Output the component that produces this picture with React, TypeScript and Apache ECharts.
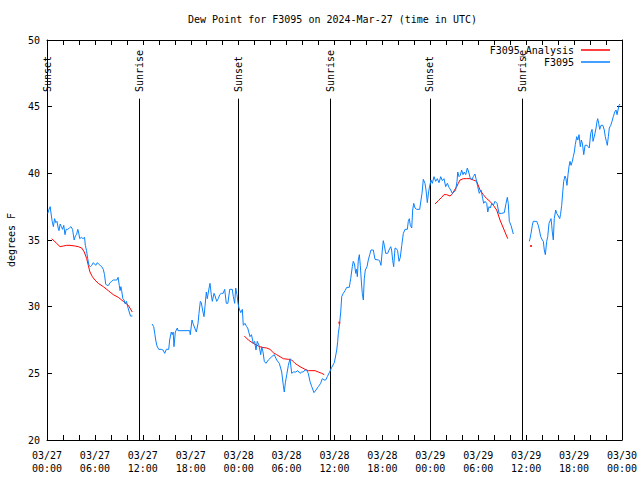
import React, { useEffect, useRef } from "react";
import * as echarts from "echarts";

// ---- data (hours since 03/27 00:00 UTC, degrees F) ----
const xTickLabels = [
  "03/27\n00:00", "03/27\n06:00", "03/27\n12:00", "03/27\n18:00",
  "03/28\n00:00", "03/28\n06:00", "03/28\n12:00", "03/28\n18:00",
  "03/29\n00:00", "03/29\n06:00", "03/29\n12:00", "03/29\n18:00",
  "03/30\n00:00",
];

const sunEventHours = [0, 11.56, 23.95, 35.47, 47.92, 59.52];
const sunEventLabels = ["Sunset", "Sunrise", "Sunset", "Sunrise", "Sunset", "Sunrise"];

const obsSeg1 = [
  [0.1, 37.0], [0.25, 37.3], [0.4, 37.5], [0.55, 36.8], [0.65, 36.4], [0.8, 36.0], [0.95, 36.6],
  [1.1, 36.3], [1.25, 36.4], [1.4, 35.9], [1.5, 35.7], [1.65, 36.2], [1.8, 36.0], [1.95, 35.8],
  [2.1, 36.1], [2.25, 35.4], [2.4, 35.8], [2.6, 35.8], [2.8, 35.9], [3.0, 36.0], [3.2, 35.8],
  [3.4, 35.0], [3.55, 35.3], [3.7, 35.4], [3.85, 35.8], [3.95, 35.6], [4.1, 35.1], [4.3, 35.2],
  [4.5, 35.1], [4.7, 35.2], [4.8, 34.6], [4.95, 34.2], [5.1, 33.6], [5.25, 33.1], [5.45, 33.0],
  [5.6, 33.1], [5.8, 33.3], [5.95, 33.2], [6.1, 33.1], [6.3, 33.3], [6.45, 33.2], [6.65, 33.1],
  [6.85, 33.0], [7.05, 32.8], [7.2, 32.4], [7.35, 31.7], [7.5, 31.6], [7.7, 31.6], [7.9, 31.8],
  [8.1, 31.9], [8.3, 32.0], [8.55, 32.0], [8.75, 32.0], [8.9, 32.2], [9.05, 31.6], [9.15, 31.2],
  [9.25, 31.5], [9.35, 31.2], [9.5, 30.6], [9.65, 30.5], [9.8, 30.2], [9.95, 30.4], [10.15, 29.9],
  [10.3, 29.6], [10.45, 29.3], [10.7, 29.3],
];

const obsSeg2 = [
  [13.15, 28.7], [13.36, 28.5], [13.49, 28.0], [13.61, 27.5], [13.77, 27.05], [13.99, 26.8],
  [14.31, 26.8], [14.53, 26.75], [14.74, 26.5], [14.94, 26.8], [15.24, 26.8], [15.36, 27.5],
  [15.56, 28.1], [15.69, 27.9], [15.8, 28.1], [15.9, 27.0], [16.07, 28.1], [16.32, 28.4],
  [16.4, 28.2], [17.87, 28.2], [17.94, 27.9], [18.16, 29.0], [18.28, 28.75], [18.5, 28.4],
  [18.7, 28.1], [18.91, 28.75], [19.03, 29.5], [19.2, 30.4], [19.32, 30.3], [19.53, 29.6],
  [19.66, 29.25], [19.78, 30.0], [19.95, 31.1], [20.07, 30.6], [20.25, 31.25], [20.41, 31.75],
  [20.57, 30.9], [20.7, 30.4], [20.91, 31.0], [21.05, 30.8], [21.25, 30.4], [21.45, 30.6],
  [21.63, 30.9], [21.83, 31.0], [22.05, 31.0], [22.25, 31.3], [22.45, 30.25], [22.65, 30.25],
  [22.88, 31.3], [23.2, 31.3], [23.33, 30.75], [23.5, 30.25], [23.63, 31.4], [23.79, 30.9],
  [23.92, 30.25], [24.04, 29.9], [24.26, 29.55], [24.46, 29.8],
  [24.58, 28.6], [24.79, 28.75], [25.0, 28.5], [25.13, 28.4], [25.42, 27.75], [25.6, 27.9],
  [25.83, 27.25], [26.0, 27.4], [26.17, 26.75], [26.33, 27.4], [26.55, 27.1], [26.76, 26.4],
  [26.89, 27.0], [27.05, 26.6], [27.21, 25.9], [27.42, 25.75], [27.71, 26.0], [28.14, 26.25],
  [28.46, 26.4], [28.76, 26.0], [29.09, 25.75], [29.39, 25.1], [29.59, 24.1], [29.71, 23.6],
  [29.85, 24.3], [30.02, 24.9], [30.22, 25.6], [30.43, 26.1], [30.64, 25.0], [30.85, 25.1],
  [31.14, 25.1], [31.4, 25.2], [31.68, 25.0], [31.9, 25.1], [32.09, 25.1], [32.31, 25.25],
  [32.5, 25.25], [32.72, 25.0], [32.93, 24.4], [33.15, 24.0], [33.43, 23.55], [33.68, 23.75],
  [33.97, 24.0], [34.27, 24.25], [34.47, 24.6], [34.69, 24.5], [34.9, 24.5], [35.1, 24.75],
  [35.35, 25.05], [35.65, 25.45], [35.98, 25.8],
  [36.28, 26.75], [36.4, 27.4], [36.48, 28.0], [36.6, 28.5], [36.78, 29.6], [36.9, 30.75],
  [37.1, 31.0], [37.32, 31.2], [37.53, 31.45], [37.85, 31.45], [38.03, 32.1], [38.23, 33.0],
  [38.35, 33.4], [38.5, 33.2], [38.66, 32.5], [38.75, 32.8], [38.86, 32.25], [38.98, 33.5],
  [39.11, 33.9], [39.23, 33.1], [39.35, 32.0], [39.48, 31.0], [39.61, 30.5], [39.73, 32.1],
  [39.86, 32.75], [40.07, 33.0], [40.23, 33.5], [40.41, 33.9], [40.57, 34.25], [40.86, 34.25],
  [41.07, 33.55], [41.49, 33.5], [41.65, 33.45], [41.82, 33.1], [41.99, 34.25], [42.11, 34.95],
  [42.24, 34.6], [42.41, 34.0], [42.66, 34.0], [42.83, 34.25], [43.04, 34.5], [43.15, 34.25],
  [43.29, 33.45], [43.41, 33.0], [43.58, 34.4], [43.75, 34.35], [43.9, 34.2], [44.08, 33.4],
  [44.24, 33.7], [44.42, 34.6], [44.62, 35.5], [44.83, 35.8], [45.12, 35.8], [45.24, 36.4],
  [45.37, 36.6], [45.49, 36.1], [45.67, 35.9], [45.79, 37.25], [45.92, 37.75], [46.08, 37.4],
  [46.29, 37.3], [46.67, 37.3], [46.83, 38.0], [46.96, 38.5], [47.12, 39.55], [47.33, 39.25],
  [47.46, 38.75], [47.62, 37.8], [47.75, 38.45], [47.87, 38.9],
  [48.08, 39.5], [48.25, 39.25], [48.46, 39.75], [48.67, 39.4], [48.87, 39.6], [49.09, 39.3],
  [49.3, 39.75], [49.5, 39.45], [49.71, 39.6], [49.92, 39.0], [50.13, 39.25], [50.34, 38.95],
  [50.55, 38.75], [50.75, 38.5], [50.96, 38.6], [51.17, 38.75], [51.34, 39.4], [51.43, 40.1],
  [51.59, 39.75], [51.75, 39.85], [51.92, 40.25], [52.09, 39.9], [52.25, 40.1], [52.43, 39.9],
  [52.63, 40.4], [52.8, 40.1], [52.97, 39.7], [53.18, 39.5], [53.38, 39.75], [53.59, 39.95],
  [53.72, 39.6], [53.93, 39.0], [54.13, 38.5], [54.35, 38.75], [54.56, 38.1], [54.68, 37.75],
  [54.85, 37.9], [55.06, 37.75], [55.19, 37.1], [55.35, 37.5], [55.51, 37.4], [55.69, 37.75],
  [55.89, 37.6], [56.1, 37.9], [56.35, 37.75], [56.6, 37.0], [56.94, 37.0], [57.26, 37.05],
  [57.48, 37.75], [57.64, 38.2], [57.76, 37.75], [57.89, 36.4], [58.1, 36.1], [58.26, 35.75],
  [58.39, 35.45],
];

const obsSeg3 = [
  [60.39, 34.9], [60.48, 35.1], [60.61, 35.5], [60.77, 36.1], [60.89, 36.4], [61.11, 36.4],
  [61.32, 36.4], [61.52, 36.1], [61.65, 35.75], [61.82, 35.25], [62.02, 35.0], [62.15, 34.9],
  [62.27, 34.25], [62.4, 33.9], [62.57, 34.9], [62.7, 35.25], [62.86, 36.25], [63.11, 36.6],
  [63.2, 36.1], [63.27, 35.6], [63.4, 35.0], [63.52, 36.6], [63.7, 37.25], [63.82, 37.0],
  [64.03, 36.8], [64.2, 36.6], [64.3, 36.9], [64.45, 37.6], [64.58, 38.6], [64.7, 39.4],
  [64.86, 39.8], [64.98, 39.6], [65.11, 39.1], [65.24, 39.9], [65.36, 40.5], [65.49, 40.9],
  [65.62, 40.6], [65.78, 40.9], [65.9, 41.25], [66.03, 41.6], [66.15, 42.15], [66.33, 42.75],
  [66.47, 42.5], [66.62, 42.9], [66.78, 42.0], [66.91, 42.5], [67.05, 42.2], [67.21, 41.4],
  [67.37, 42.1], [67.6, 42.1], [67.78, 42.0], [67.9, 41.9], [68.08, 43.0], [68.25, 43.3],
  [68.37, 42.4], [68.5, 42.7], [68.62, 43.0], [68.75, 43.4], [68.87, 43.9], [68.96, 44.1],
  [69.08, 43.75], [69.21, 43.3], [69.37, 43.6], [69.6, 43.6], [69.78, 43.25], [69.91, 42.75],
  [70.04, 42.4], [70.16, 42.1], [70.29, 42.75], [70.41, 43.4], [70.59, 43.6], [70.75, 43.9],
  [70.91, 44.25], [71.09, 44.6], [71.25, 44.75], [71.38, 44.4], [71.5, 44.75], [71.63, 45.1],
  [71.75, 45.2],
];

const anaSeg1 = [
  [0.59, 35.1], [1.21, 34.75], [1.63, 34.5], [2.04, 34.55], [2.46, 34.6], [2.88, 34.6],
  [3.5, 34.55], [3.92, 34.5], [4.34, 34.4], [4.67, 34.1], [4.97, 33.6], [5.17, 33.1],
  [5.38, 32.6], [5.68, 32.25], [6.0, 32.0], [6.42, 31.75], [7.05, 31.5], [7.68, 31.2],
  [8.3, 30.9], [8.93, 30.7], [9.55, 30.4], [10.18, 30.1], [10.68, 29.6],
];

const anaSeg2 = [
  [24.71, 27.8], [25.21, 27.5], [25.83, 27.25], [26.46, 27.05], [26.88, 26.95], [27.51, 26.9],
  [27.92, 26.8], [28.34, 26.55], [28.76, 26.4], [29.18, 26.25], [29.59, 26.1], [30.22, 26.05],
  [30.64, 26.0], [31.05, 25.75], [31.68, 25.5], [32.31, 25.3], [32.72, 25.2], [33.56, 25.2],
  [33.97, 25.1], [34.4, 25.0], [34.73, 24.9],
];

const anaSeg3 = [
  [48.59, 37.7], [49.0, 37.95], [49.42, 38.2], [49.71, 38.4], [50.05, 38.4], [50.46, 38.3],
  [50.67, 38.4], [50.88, 38.6], [51.3, 39.0], [51.5, 39.25], [51.72, 39.5], [52.13, 39.6],
  [52.55, 39.6], [52.97, 39.6], [53.38, 39.5], [53.8, 39.4], [54.22, 38.75], [54.63, 38.4],
  [55.06, 38.1], [55.47, 37.9], [55.89, 37.6], [56.31, 37.25], [56.72, 36.5], [57.14, 35.9],
  [57.69, 35.1],
];

const anaDots = [[36.6, 28.8], [60.61, 34.55]];

// ---- styling ----
const FONT = "DejaVu Sans Mono";
const BLUE = "#0a80ff";
const RED = "#ff0000";
const EVENT_LINE_TOP = 45.6;
const EVENT_LABEL_BASE = 46.1;

export default function App() {
  const ref = useRef<HTMLDivElement>(null);

  useEffect(() => {
    if (!ref.current) return;
    const chart = echarts.init(ref.current, null, { renderer: "svg" });

    const lineSeries = (name: string, data: number[][], color: string) => ({
      name,
      type: "line",
      data,
      xAxisIndex: 0,
      yAxisIndex: 0,
      symbol: "none",
      showSymbol: false,
      lineStyle: { color, width: 1 },
      itemStyle: { color },
      z: 3,
    });

    const baseX = {
      type: "value",
      min: 0,
      max: 72,
      interval: 6,
      axisLine: { show: true, onZero: false, lineStyle: { color: "#000", width: 1 } },
      axisTick: { show: true, inside: true, length: 5, lineStyle: { color: "#000" } },
      minorTick: { show: true, splitNumber: 3, length: 5, lineStyle: { color: "#000" } },
      splitLine: { show: false },
      minorSplitLine: { show: false },
    };
    const baseY = {
      type: "value",
      min: 20,
      max: 50,
      interval: 5,
      axisLine: { show: true, onZero: false, lineStyle: { color: "#000", width: 1 } },
      axisTick: { show: true, inside: true, length: 5, lineStyle: { color: "#000" } },
      splitLine: { show: false },
    };

    chart.setOption({
      animation: false,
      backgroundColor: "#fff",
      title: {
        text: "Dew Point for F3095 on 2024-Mar-27 (time in UTC)",
        left: 188,
        top: 14,
        padding: 0,
        textStyle: { fontFamily: FONT, fontSize: 10, fontWeight: "normal", color: "#000" },
      },
      legend: {
        data: ["F3095_Analysis", "F3095"],
        orient: "vertical",
        right: 30,
        top: 45,
        padding: 0,
        align: "right",
        icon: "rect",
        itemWidth: 29,
        itemHeight: 1.5,
        itemGap: 2,
        textStyle: { fontFamily: FONT, fontSize: 10, color: "#000", padding: [0, 2, 0, 0] },
      },
      grid: { left: 47, right: 18, top: 40, bottom: 40, outerBoundsMode: "none", containLabel: false },
      xAxis: [
        {
          ...baseX,
          position: "bottom",
          axisLabel: {
            show: true,
            margin: 9,
            fontFamily: FONT,
            fontSize: 10,
            lineHeight: 13,
            color: "#000",
            formatter: (v: number) => xTickLabels[Math.round(v / 6)] ?? "",
          },
        },
        { ...baseX, position: "top", axisLabel: { show: false } },
      ],
      yAxis: [
        {
          ...baseY,
          position: "left",
          name: "degrees F",
          nameLocation: "middle",
          nameGap: 31,
          nameTextStyle: { fontFamily: FONT, fontSize: 10, color: "#000" },
          axisLabel: { margin: 7, fontFamily: FONT, fontSize: 10, color: "#000" },
        },
        { ...baseY, position: "right", axisLabel: { show: false } },
      ],
      series: [
        lineSeries("F3095_Analysis", anaSeg1, RED),
        lineSeries("F3095_Analysis", anaSeg2, RED),
        lineSeries("F3095_Analysis", anaSeg3, RED),
        lineSeries("F3095", obsSeg1, BLUE),
        lineSeries("F3095", obsSeg2, BLUE),
        lineSeries("F3095", obsSeg3, BLUE),
        {
          name: "analysis points",
          type: "scatter",
          data: anaDots,
          symbol: "rect",
          symbolSize: 2,
          itemStyle: { color: RED },
          z: 3,
        },
        {
          name: "sun events",
          type: "custom",
          data: sunEventHours.map((h) => [h]),
          clip: false,
          z: 2,
          renderItem: (params: any, api: any) => {
            const h = api.value(0);
            const top = api.coord([h, EVENT_LINE_TOP]);
            const bot = api.coord([h, 20]);
            const lab = api.coord([h, EVENT_LABEL_BASE]);
            const x = Math.round(top[0]) + 0.5;
            return {
              type: "group",
              children: [
                {
                  type: "line",
                  shape: { x1: x, y1: top[1], x2: x, y2: bot[1] },
                  style: { stroke: "#000", lineWidth: 1 },
                },
                {
                  type: "text",
                  x: lab[0],
                  y: lab[1],
                  rotation: Math.PI / 2,
                  style: {
                    text: sunEventLabels[params.dataIndex],
                    fontFamily: FONT,
                    fontSize: 10,
                    fill: "#000",
                    align: "left",
                    verticalAlign: "middle",
                  },
                },
              ],
            };
          },
        },
      ],
    });

    return () => chart.dispose();
  }, []);

  return (
    <div
      ref={ref}
      style={{ position: "fixed", left: 0, top: 0, width: 640, height: 480, background: "#fff" }}
    />
  );
}
